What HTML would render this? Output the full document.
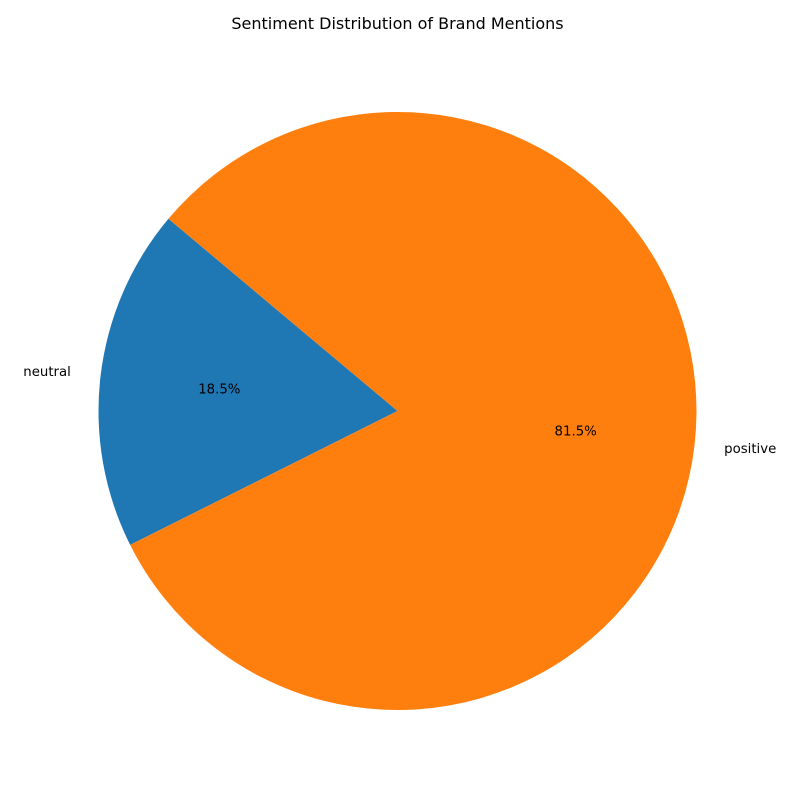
<!DOCTYPE html>
<html>
<head>
<meta charset="utf-8">
<style>
  html, body { margin: 0; padding: 0; background: #ffffff; }
  svg { display: block; font-family: "DejaVu Sans", "Liberation Sans", sans-serif; }
</style>
</head>
<body>
<svg id="chart" width="800" height="800" viewBox="0 0 800 800">
  <rect width="800" height="800" fill="#ffffff"/>
  <text x="397.5" y="29" text-anchor="middle" font-size="16" fill="#000">Sentiment Distribution of Brand Mentions</text>
  <g id="slices"></g>
  <g id="labels"></g>
</svg>
<script>
const categories = ["neutral", "positive"];
const values = [18.5, 81.5];
const colors = ["#1f77b4", "#ff7f0e"];
const startAngle = 140;

const cx = 397.5, cy = 411, r = 299;
const NS = "http://www.w3.org/2000/svg";
const sliceG = document.getElementById("slices");
const labelG = document.getElementById("labels");
const total = values.reduce((a, b) => a + b, 0);
function pt(deg, rad) {
  const a = deg * Math.PI / 180;
  return [cx + rad * Math.cos(a), cy - rad * Math.sin(a)];
}
let ang = startAngle;
values.forEach((v, i) => {
  const sweep = v / total * 360;
  const a0 = ang, a1 = ang + sweep;
  const p0 = pt(a0, r), p1 = pt(a1, r);
  const large = sweep > 180 ? 1 : 0;
  const path = document.createElementNS(NS, "path");
  path.setAttribute("d", `M${cx},${cy} L${p0[0]},${p0[1]} A${r},${r} 0 ${large} 0 ${p1[0]},${p1[1]} Z`);
  path.setAttribute("fill", colors[i]);
  
  
  sliceG.appendChild(path);

  const mid = (a0 + a1) / 2;
  const lp = pt(mid, r * 1.1);
  const lab = document.createElementNS(NS, "text");
  lab.setAttribute("x", lp[0]);
  lab.setAttribute("y", lp[1]);
  lab.setAttribute("font-size", "13.3");
  lab.setAttribute("dominant-baseline", "central");
  lab.setAttribute("text-anchor", Math.cos(mid * Math.PI / 180) < 0 ? "end" : "start");
  lab.textContent = categories[i];
  
  
  labelG.appendChild(lab);

  const pp = pt(mid, r * 0.6);
  const pct = document.createElementNS(NS, "text");
  pct.setAttribute("x", pp[0]);
  pct.setAttribute("y", pp[1]);
  pct.setAttribute("font-size", "13.3");
  pct.setAttribute("dominant-baseline", "central");
  pct.setAttribute("text-anchor", "middle");
  pct.textContent = (v / total * 100).toFixed(1) + "%";
  
  
  labelG.appendChild(pct);

  ang = a1;
});
</script>
</body>
</html>
